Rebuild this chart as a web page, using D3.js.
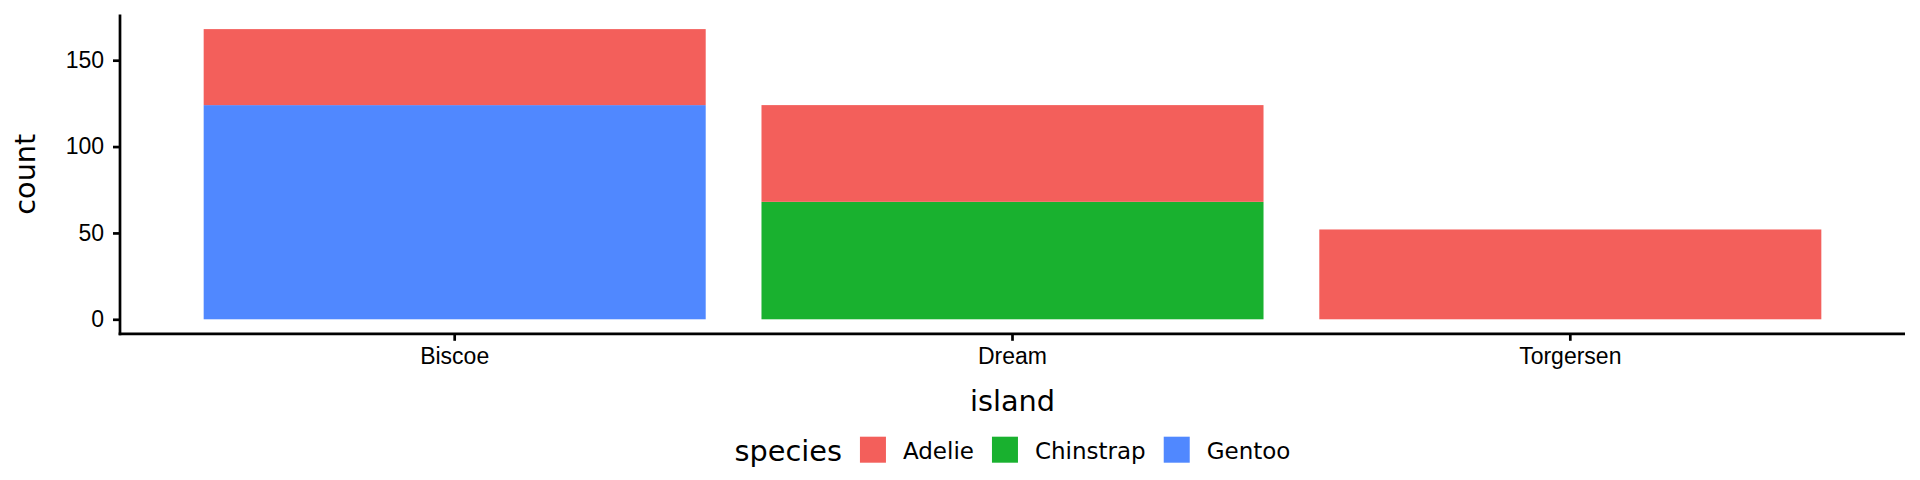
<!DOCTYPE html>
<html lang="en">
<head>
    <meta charset="UTF-8">
    <title>Penguins by island</title>
    <script src="https://cdnjs.cloudflare.com/ajax/libs/d3/7.8.5/d3.min.js"></script>
    <style>
        body {
            margin: 0;
            background: #fff;
            font-family: "DejaVu Sans", sans-serif;
        }
        .tick text { font-size: 23px; fill: #000; }
        .axis-title, .legend-title { font-size: 28.75px; fill: #000; }
        .legend-label { font-size: 23px; fill: #000; }
    </style>
</head>
<body>
    <div id="container"></div>

    <script>
        // Data
        const islands = ["Biscoe", "Dream", "Torgersen"];
        const species = ["Adelie", "Chinstrap", "Gentoo"];
        const adelie = [44, 56, 52];
        const chinstrap = [0, 68, 0];
        const gentoo = [124, 0, 0];
        const yTicks = [0, 50, 100, 150];
        const colors = ["#F35F5B", "#19B12F", "#5088FF"];

        // Setup
        const width = 1920;
        const height = 480;
        const panel = { left: 120, right: 1905, top: 14.6, bottom: 333.8 };

        const svg = d3.select("#container")
            .append("svg")
            .attr("width", width)
            .attr("height", height);

        const rows = islands.map((island, i) => ({
            island: island,
            Adelie: adelie[i],
            Chinstrap: chinstrap[i],
            Gentoo: gentoo[i]
        }));

        // Adelie ends up on top, like ggplot's default stacking
        const stacked = d3.stack().keys(species.slice().reverse())(rows);

        const color = d3.scaleOrdinal().domain(species).range(colors);

        const x = d3.scaleBand()
            .domain(islands)
            .range([panel.left, panel.right])
            .paddingInner(0.1)
            .paddingOuter(0.15);

        const yMax = d3.max(rows, d => d.Adelie + d.Chinstrap + d.Gentoo);
        const pad = yMax * 0.05;
        const y = d3.scaleLinear()
            .domain([-pad, yMax + pad])
            .range([panel.bottom, panel.top]);

        // Bars
        svg.append("g")
            .selectAll("g")
            .data(stacked)
            .join("g")
            .attr("fill", s => color(s.key))
            .selectAll("rect")
            .data(s => s)
            .join("rect")
            .attr("x", d => x(d.data.island))
            .attr("width", x.bandwidth())
            .attr("y", d => y(d[1]))
            .attr("height", d => y(d[0]) - y(d[1]));

        // Axes
        const xAxis = svg.append("g")
            .attr("transform", `translate(0,${panel.bottom})`)
            .call(d3.axisBottom(x).tickSize(7).tickPadding(7).tickSizeOuter(0));

        const yAxis = svg.append("g")
            .attr("transform", `translate(${panel.left},0)`)
            .call(d3.axisLeft(y).tickValues(yTicks).tickSize(7).tickPadding(9).tickSizeOuter(0));

        [xAxis, yAxis].forEach(a => {
            a.select(".domain").attr("stroke", "#000").attr("stroke-width", 2.7);
            a.selectAll(".tick line").attr("stroke", "#000").attr("stroke-width", 2.7);
            a.selectAll(".tick text").attr("font-family", null).attr("font-size", null);
        });
        xAxis.select(".domain").attr("d", `M${panel.left - 1.35},0H${panel.right}`);
        yAxis.select(".domain").attr("d", `M0,${panel.top}V${panel.bottom + 1.35}`);

        // Axis titles
        svg.append("text")
            .attr("class", "axis-title")
            .attr("x", (panel.left + panel.right) / 2)
            .attr("y", 411)
            .attr("text-anchor", "middle")
            .text("island");

        svg.append("text")
            .attr("class", "axis-title")
            .attr("transform", `translate(34.5,${(panel.top + panel.bottom) / 2}) rotate(-90)`)
            .attr("text-anchor", "middle")
            .text("count");

        // Legend
        const legend = svg.append("g");
        const keySize = 26;
        let cx = 0;
        const title = legend.append("text")
            .attr("class", "legend-title")
            .attr("x", 0)
            .attr("y", 461)
            .text("species");
        cx += title.node().getComputedTextLength() + 18;

        species.forEach((s, i) => {
            legend.append("rect")
                .attr("x", cx)
                .attr("y", 436.7)
                .attr("width", keySize)
                .attr("height", keySize)
                .attr("fill", color(s));
            cx += keySize + 17;
            const t = legend.append("text")
                .attr("class", "legend-label")
                .attr("x", cx)
                .attr("y", 458.5)
                .text(s);
            cx += t.node().getComputedTextLength();
            if (i < species.length - 1) cx += 18;
        });

        legend.attr("transform", `translate(${(panel.left + panel.right) / 2 - cx / 2},0)`);
    </script>
</body>
</html>
